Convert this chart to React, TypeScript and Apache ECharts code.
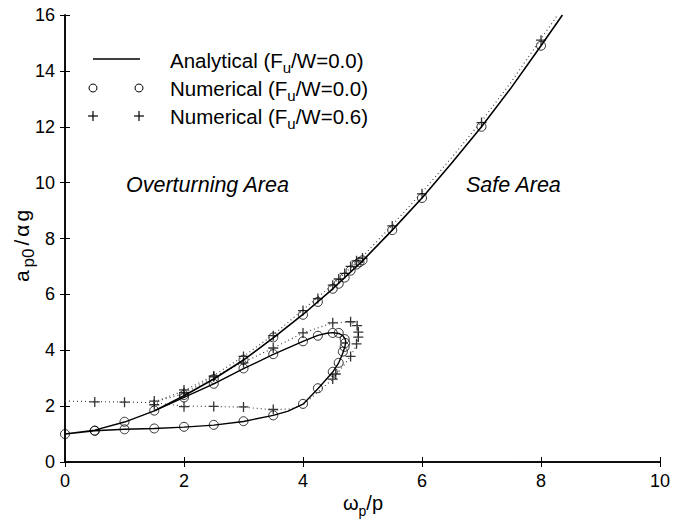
import React, { useEffect, useRef } from "react";
import * as echarts from "echarts";

const FONT = "'Liberation Sans', Arial, Helvetica, sans-serif";

const xMin = 0, xMax = 10, xStep = 2;
const yMin = 0, yMax = 16, yStep = 2;

// Analytical (Fu/W=0.0): lower branch to the fold and back along the middle branch
const analyticalLoop: [number, number][] = [
  [0, 1], [0.5, 1.12], [1, 1.17], [1.5, 1.2], [2, 1.25], [2.5, 1.32], [3, 1.45], [3.5, 1.67],
  [3.75, 1.82], [4, 2.07], [4.25, 2.62], [4.5, 3.22], [4.6, 3.55], [4.66, 3.85], [4.7, 4.1],
  [4.72, 4.28], [4.71, 4.4], [4.67, 4.52], [4.6, 4.6], [4.5, 4.63], [4.4, 4.61], [4.25, 4.53],
  [4, 4.32], [3.5, 3.85], [3, 3.34], [2.5, 2.8], [2, 2.31], [1.5, 1.83], [1, 1.43], [0.5, 1.14], [0, 1],
];
// Analytical (Fu/W=0.0): upper branch
const analyticalUpper: [number, number][] = [
  [1.5, 1.83], [2, 2.37], [2.5, 2.97], [3, 3.65], [3.5, 4.44], [4, 5.28], [4.5, 6.2], [5, 7.2],
  [5.5, 8.3], [6, 9.45], [6.5, 10.7], [7, 12.0], [7.5, 13.4], [8, 14.9], [8.36, 16],
];
// Numerical (Fu/W=0.0) — circles
const numericalF0: [number, number][] = [
  [0, 1], [0.5, 1.12], [1, 1.17], [1.5, 1.2], [2, 1.26], [2.5, 1.33], [3, 1.46], [3.5, 1.67],
  [4, 2.08], [4.25, 2.64], [4.5, 3.23], [4.6, 3.55], [4.67, 3.95], [4.7, 4.12], [4.71, 4.26], [4.7, 4.4],
  [4.6, 4.62], [4.5, 4.62], [4.25, 4.52], [4, 4.32], [3.5, 3.86], [3, 3.35], [2.5, 2.8], [2, 2.31],
  [1.5, 1.84], [1, 1.44], [0.5, 1.12],
  [2, 2.4], [2.5, 2.97], [3, 3.66], [3.5, 4.46], [4, 5.27], [4.25, 5.73], [4.5, 6.2], [4.6, 6.38],
  [4.7, 6.6], [4.8, 6.85], [4.9, 7.07], [4.95, 7.15], [5, 7.22], [5.5, 8.3], [6, 9.45], [7, 12.0], [8, 14.9],
];
// Numerical (Fu/W=0.6) — plus markers
const numericalF06: [number, number][] = [
  [0.5, 2.15], [1, 2.14], [1.5, 2.18], [1.5, 2.05], [2, 1.98], [2.5, 1.99], [3, 1.97], [3.5, 1.88],
  [4.5, 2.97], [4.55, 3.15], [4.8, 3.78], [4.9, 4.23], [4.93, 4.47], [4.93, 4.65], [4.91, 4.88],
  [4.8, 5.02], [4.5, 4.98], [4, 4.62], [3.5, 4.08], [3, 3.55], [2.5, 3.05], [2, 2.48],
  [2, 2.58], [2.5, 3.08], [3, 3.78], [3.5, 4.52], [4, 5.42], [4.25, 5.85], [4.5, 6.33], [4.6, 6.55],
  [4.7, 6.75], [4.8, 7.0], [4.9, 7.2], [5, 7.3], [5.5, 8.45], [6, 9.6], [7, 12.15], [8, 15.1],
];
// Dotted guide lines through the Fu/W=0.6 results
const dottedLower: [number, number][] = [
  [0, 2.18], [0.5, 2.16], [1, 2.15], [1.5, 2.12], [2, 2.0], [2.5, 1.99], [3, 1.96], [3.5, 1.87],
  [3.8, 1.9], [4, 2.05], [4.25, 2.5], [4.5, 2.97], [4.7, 3.5], [4.8, 3.8], [4.88, 4.1], [4.93, 4.45],
  [4.93, 4.7], [4.9, 4.9], [4.8, 5.02], [4.5, 4.98], [4, 4.62], [3.5, 4.08], [3, 3.57], [2.5, 3.05],
  [2, 2.45], [1.5, 2.15],
];
const dottedUpper: [number, number][] = [
  [1.5, 2.15], [2, 2.55], [2.5, 3.1], [3, 3.78], [3.5, 4.55], [4, 5.45], [4.5, 6.35], [5, 7.35],
  [5.5, 8.48], [6, 9.65], [6.5, 10.9], [7, 12.2], [7.5, 13.6], [8, 15.15], [8.28, 16],
];

const legendLabels = [
  [{ t: "Analytical (F" }, { t: "u", sub: true }, { t: "/W=0.0)" }],
  [{ t: "Numerical (F" }, { t: "u", sub: true }, { t: "/W=0.0)" }],
  [{ t: "Numerical (F" }, { t: "u", sub: true }, { t: "/W=0.6)" }],
];
const xName = [{ t: "ω" }, { t: "p", sub: true }, { t: "/p" }];
const yName = [{ t: "a" }, { t: "p0", sub: true }, { t: "/" }, { t: "α" }, { t: "g" }];

type Part = { t: string; sub?: boolean };

let ctx: CanvasRenderingContext2D | null = null;
function measure(text: string, size: number, italic = false) {
  if (!ctx) ctx = document.createElement("canvas").getContext("2d");
  if (!ctx) return text.length * size * 0.55;
  ctx.font = `${italic ? "italic " : ""}${size}px ${FONT}`;
  return ctx.measureText(text).width;
}

function richText(parts: Part[], size: number, subRatio = 0.72, gap = 0) {
  const subSize = Math.round(size * subRatio);
  let cx = 0;
  const children: any[] = [];
  parts.forEach((p, i) => {
    const s = p.sub ? subSize : size;
    if (i > 0) cx += gap;
    children.push({
      type: "text",
      x: cx,
      y: p.sub ? size * 0.38 : 0,
      silent: true,
      style: {
        text: p.t,
        font: `${s}px ${FONT}`,
        fill: "#000",
        textAlign: "left",
        verticalAlign: "middle",
        textVerticalAlign: "middle",
      },
    });
    cx += measure(p.t, s);
  });
  return { children, width: cx };
}

function plusLines(cx: number, cy: number, r: number) {
  return [
    { type: "line", shape: { x1: cx - r, y1: cy, x2: cx + r, y2: cy }, style: { stroke: "#000", lineWidth: 1.2 } },
    { type: "line", shape: { x1: cx, y1: cy - r, x2: cx, y2: cy + r }, style: { stroke: "#000", lineWidth: 1.2 } },
  ];
}

export default function App() {
  const ref = useRef<HTMLDivElement>(null);
  useEffect(() => {
    if (!ref.current) return;
    const chart = echarts.init(ref.current, undefined, { renderer: "svg" });

    const graphics: any[] = [];
    // legend
    const rows = [60, 88, 116];
    graphics.push({ type: "line", shape: { x1: 93, y1: 59, x2: 140, y2: 59 }, style: { stroke: "#000", lineWidth: 1.6 } });
    graphics.push({ type: "circle", shape: { cx: 93, cy: 88, r: 4 }, style: { stroke: "#000", fill: "none", lineWidth: 1 } });
    graphics.push({ type: "circle", shape: { cx: 139, cy: 88, r: 4 }, style: { stroke: "#000", fill: "none", lineWidth: 1 } });
    graphics.push(...plusLines(93, 116, 5), ...plusLines(139, 116, 5));
    legendLabels.forEach((parts, i) => {
      const rt = richText(parts as Part[], 20.5);
      graphics.push({ type: "group", x: 170, y: rows[i], children: rt.children });
    });
    // axis names
    const xn = richText(xName as Part[], 20);
    graphics.push({ type: "group", x: 363 - xn.width / 2, y: 503, children: xn.children });
    const yn = richText(yName as Part[], 21, 0.8, 3);
    graphics.push({ type: "group", x: 21, y: 246 + yn.width / 2, rotation: Math.PI / 2, children: yn.children });
    // annotations
    graphics.push({
      type: "text", x: 126, y: 185,
      style: { text: "Overturning Area", font: `italic 21.5px ${FONT}`, fill: "#000", verticalAlign: "middle", textVerticalAlign: "middle" },
    });
    graphics.push({
      type: "text", x: 466, y: 185,
      style: { text: "Safe Area", font: `italic 21.5px ${FONT}`, fill: "#000", verticalAlign: "middle", textVerticalAlign: "middle" },
    });

    const axisLine = { show: true, lineStyle: { color: "#000", width: 1.5 } };
    const axisTick = { show: true, inside: false, length: 5, lineStyle: { color: "#000", width: 1 } };
    const label = { fontSize: 18, color: "#000", fontFamily: FONT };

    chart.setOption({
      animation: false,
      backgroundColor: "#fff",
      grid: { left: 65, right: 31, top: 15, bottom: 58, containLabel: false },
      xAxis: [
        { type: "value", min: xMin, max: xMax, interval: xStep, axisLine, axisTick, axisLabel: { ...label, margin: 10 }, splitLine: { show: false } },
        { type: "value", position: "top", min: xMin, max: xMax, interval: xStep, axisLine, axisTick, axisLabel: { show: false }, splitLine: { show: false } },
      ],
      yAxis: [
        { type: "value", min: yMin, max: yMax, interval: yStep, axisLine, axisTick, axisLabel: { ...label, margin: 10 }, splitLine: { show: false } },
        { type: "value", position: "right", min: yMin, max: yMax, interval: yStep, axisLine, axisTick, axisLabel: { show: false }, splitLine: { show: false } },
      ],
      series: [
        { name: "F0.6 lower", type: "line", data: dottedLower, showSymbol: false, symbol: "none", lineStyle: { color: "#444", width: 1.2, type: [1, 3] }, silent: true },
        { name: "F0.6 upper", type: "line", data: dottedUpper, showSymbol: false, symbol: "none", lineStyle: { color: "#444", width: 1.2, type: [1, 3] }, silent: true },
        { name: "Analytical (Fu/W=0.0)", type: "line", data: analyticalLoop, showSymbol: false, symbol: "none", lineStyle: { color: "#000", width: 1.4 }, silent: true },
        { name: "Analytical upper", type: "line", data: analyticalUpper, showSymbol: false, symbol: "none", lineStyle: { color: "#000", width: 1.6 }, silent: true },
        { name: "Numerical (Fu/W=0.0)", type: "scatter", data: numericalF0, symbol: "circle", symbolSize: 9, itemStyle: { color: "rgba(0,0,0,0)", borderColor: "#000", borderWidth: 1 }, silent: true },
        { name: "Numerical (Fu/W=0.6)", type: "scatter", data: numericalF06, symbol: "path://M5,0V10M0,5H10", symbolSize: 10, itemStyle: { color: "none", borderColor: "#000", borderWidth: 1.3 }, silent: true },
      ],
      graphic: graphics,
    });
    return () => chart.dispose();
  }, []);
  return <div ref={ref} style={{ position: "fixed", left: 0, top: 0, width: 691, height: 520 }} />;
}
